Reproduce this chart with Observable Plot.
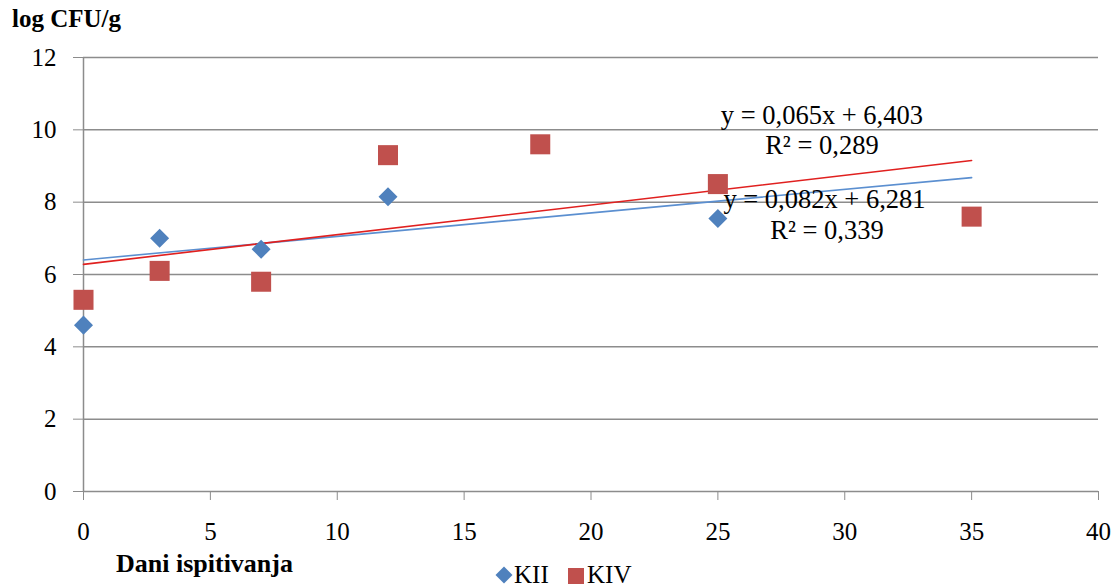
<!DOCTYPE html>
<html>
<head>
<meta charset="utf-8">
<script src="https://cdn.jsdelivr.net/npm/d3@7"></script>
<script src="https://cdn.jsdelivr.net/npm/@observablehq/plot@0.6"></script>
<style>
  html, body { margin: 0; padding: 0; background: #fff; overflow: hidden; }
  #wrap { position: relative; width: 1118px; height: 587px; font-family: "Liberation Serif", "Times New Roman", serif; color: #000; }
  #wrap svg { position: absolute; left: 0; top: 0; }
  #wrap svg text { font-family: "Liberation Serif", "Times New Roman", serif !important; }
  .lbl { position: absolute; line-height: 1; white-space: nowrap; font-family: "Liberation Serif", "Times New Roman", serif; }
  .title { left: 12px; top: 6px; font-size: 25px; font-weight: bold; }
  .xtitle { left: 116px; top: 551px; font-size: 26px; font-weight: bold; }
  .leg { top: 562px; font-size: 25px; }
  .sw { position: absolute; }
</style>
</head>
<body>
<div id="wrap">
  <div class="lbl title">log CFU/g</div>
  <div class="lbl xtitle">Dani ispitivanja</div>
  <div class="sw" style="left:498px;top:569px;width:12px;height:12px;background:#4F81BD;transform:rotate(45deg);"></div>
  <div class="lbl leg" style="left:514px;">KII</div>
  <div class="sw" style="left:568px;top:568px;width:16px;height:16px;background:#C0504D;"></div>
  <div class="lbl leg" style="left:587px;">KIV</div>
</div>
<script>
// Test days and microbial counts (log CFU/g) for the two samples
const daysKII = [0, 3, 7, 12, 25];
const countsKII = [4.6, 7.0, 6.7, 8.15, 7.55];
const daysKIV = [0, 3, 7, 12, 18, 25, 35];
const countsKIV = [5.3, 6.1, 5.8, 9.3, 9.6, 8.5, 7.6];

// Linear trend lines as stated by their equations
const trendKII = {slope: 0.065, intercept: 6.403};
const trendKIV = {slope: 0.082, intercept: 6.281};
const trendRange = [0, 35];

// Equation labels
const eqLabels = [
  {text: "y = 0,065x + 6,403", x: 29.1, y: 10.40},
  {text: "R² = 0,289", x: 29.1, y: 9.57},
  {text: "y = 0,082x + 6,281", x: 29.2, y: 8.07},
  {text: "R² = 0,339", x: 29.3, y: 7.22}
];

const xTicks = [0, 5, 10, 15, 20, 25, 30, 35, 40];
const yTicks = [0, 2, 4, 6, 8, 10, 12];

const kii = daysKII.map((d, i) => ({day: d, value: countsKII[i]}));
const kiv = daysKIV.map((d, i) => ({day: d, value: countsKIV[i]}));
const line = (t) => trendRange.map(x => ({day: x, value: t.intercept + t.slope * x}));

const gray = "#8c8c8c";

const chart = Plot.plot({
  width: 1118,
  height: 587,
  marginLeft: 83,
  marginRight: 20,
  marginTop: 57,
  marginBottom: 96,
  x: {domain: [0, 40]},
  y: {domain: [0, 12]},
  style: {fontFamily: "Liberation Serif", fontSize: "25px", color: "#000", background: "transparent"},
  marks: [
    Plot.gridY(yTicks, {stroke: gray, strokeOpacity: 1, strokeWidth: 1.5}),
    Plot.ruleX([0], {y1: 0, y2: 12, stroke: gray, strokeWidth: 1.5}),
    Plot.axisY(yTicks, {tickSize: 10, tickPadding: 17, stroke: gray, fill: "#000", label: null, fontSize: 25}),
    Plot.axisX(xTicks, {tickSize: 9, tickPadding: 22, stroke: gray, fill: "#000", label: null, fontSize: 25}),
    Plot.line(line(trendKII), {x: "day", y: "value", stroke: "#5b8fd0", strokeWidth: 1.6}),
    Plot.line(line(trendKIV), {x: "day", y: "value", stroke: "#e0201f", strokeWidth: 1.6}),
    Plot.dot(kii, {x: "day", y: "value", symbol: "square", r: 7.6, rotate: 45, fill: "#4F81BD", stroke: "none"}),
    Plot.dot(kiv, {x: "day", y: "value", symbol: "square", r: 11.3, fill: "#C0504D", stroke: "none"}),
    Plot.text(eqLabels, {x: "x", y: "y", text: "text", fontSize: 26.5, fill: "#000", textAnchor: "middle", lineAnchor: "middle"})
  ]
});
document.getElementById("wrap").prepend(chart);
</script>
</body>
</html>
